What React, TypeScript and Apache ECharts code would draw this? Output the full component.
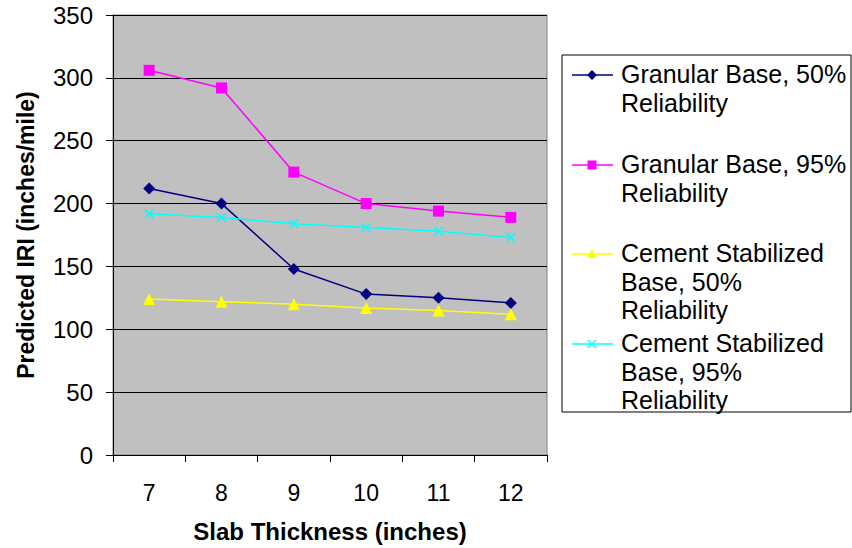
import React, { useEffect, useRef } from "react";
import * as echarts from "echarts";

// Slab thickness categories (inches)
const thickness = ["7", "8", "9", "10", "11", "12"];

// Predicted IRI (inches/mile) per design case
const granular50 = [212, 200, 148, 128, 125, 121];
const granular95 = [306, 292, 225, 200, 194, 189];
const cement50 = [124, 122, 120, 117, 115, 112];
const cement95 = [192, 189, 184, 181, 178, 173];

const seriesNames = [
  "Granular Base, 50%\nReliability",
  "Granular Base, 95%\nReliability",
  "Cement Stabilized\nBase, 50%\nReliability",
  "Cement Stabilized\nBase, 95%\nReliability",
];

const colors = ["#000080", "#FF00FF", "#FFFF00", "#00FFFF"];
const FONT = "'Liberation Sans', Arial, sans-serif";
const CROSS = "path://M0,0L10,10M0,10L10,0";

export default function App() {
  const ref = useRef<HTMLDivElement>(null);

  useEffect(() => {
    if (!ref.current) return;
    const chart = echarts.init(ref.current, undefined, { renderer: "svg" });

    // Legend drawn as a boxed list with one icon per entry
    const legendX = 562;
    const legendY = 55;
    const entryY = [75, 165, 254, 344];
    const iconX = 592;
    const lineH = 28.5;
    const legendItems: any[] = [
      {
        type: "rect",
        shape: { x: legendX, y: legendY, width: 289, height: 357 },
        style: { fill: "#fff", stroke: "#000", lineWidth: 1 },
      },
    ];
    entryY.forEach((y, i) => {
      legendItems.push({
        type: "line",
        shape: { x1: 572, y1: y, x2: 613, y2: y },
        style: { stroke: colors[i], lineWidth: 1.5 },
      });
      if (i === 0) {
        legendItems.push({
          type: "polygon",
          shape: { points: [[iconX, y - 5], [iconX + 5, y], [iconX, y + 5], [iconX - 5, y]] },
          style: { fill: colors[i] },
        });
      } else if (i === 1) {
        legendItems.push({
          type: "rect",
          shape: { x: iconX - 4.5, y: y - 4.5, width: 9, height: 9 },
          style: { fill: colors[i] },
        });
      } else if (i === 2) {
        legendItems.push({
          type: "polygon",
          shape: { points: [[iconX, y - 5], [iconX + 5, y + 4], [iconX - 5, y + 4]] },
          style: { fill: colors[i] },
        });
      } else {
        legendItems.push(
          {
            type: "line",
            shape: { x1: iconX - 4, y1: y - 4, x2: iconX + 4, y2: y + 4 },
            style: { stroke: colors[i], lineWidth: 1.3 },
          },
          {
            type: "line",
            shape: { x1: iconX - 4, y1: y + 4, x2: iconX + 4, y2: y - 4 },
            style: { stroke: colors[i], lineWidth: 1.3 },
          }
        );
      }
      legendItems.push({
        type: "text",
        x: 621,
        y: y - lineH / 2 - 1,
        style: {
          text: seriesNames[i],
          fontFamily: FONT,
          fontSize: 25,
          lineHeight: lineH,
          fill: "#000",
          verticalAlign: "top",
          align: "left",
        },
      });
    });

    const mkSeries = (i: number, data: number[], symbol: string, size: number, extra: any = {}) => ({
      name: seriesNames[i],
      type: "line",
      data,
      symbol,
      symbolSize: size,
      lineStyle: { color: colors[i], width: 1.5 },
      itemStyle: { color: colors[i], ...extra },
      z: 3 + i,
    });

    chart.setOption({
      animation: false,
      backgroundColor: "#fff",
      textStyle: { fontFamily: FONT },
      grid: {
        left: 113,
        right: 305,
        top: 15,
        bottom: 90,
        show: true,
        backgroundColor: "#C0C0C0",
        borderColor: "#808080",
        borderWidth: 1,
      },
      xAxis: {
        type: "category",
        data: thickness,
        boundaryGap: true,
        name: "Slab Thickness (inches)",
        nameLocation: "middle",
        nameGap: 64,
        nameTextStyle: { fontFamily: FONT, fontSize: 24, fontWeight: "bold", color: "#000" },
        axisLine: { lineStyle: { color: "#000", width: 1 } },
        axisTick: { show: true, length: 7, lineStyle: { color: "#000" } },
        axisLabel: { fontFamily: FONT, fontSize: 23, color: "#000", margin: 26 },
        splitLine: { show: false },
      },
      yAxis: {
        type: "value",
        min: 0,
        max: 350,
        interval: 50,
        name: "Predicted IRI (inches/mile)",
        nameLocation: "middle",
        nameGap: 76,
        nameTextStyle: { fontFamily: FONT, fontSize: 23, fontWeight: "bold", color: "#000" },
        axisLine: { show: true, lineStyle: { color: "#000", width: 1 } },
        axisTick: { show: true, length: 7, lineStyle: { color: "#000" } },
        axisLabel: { fontFamily: FONT, fontSize: 24, color: "#000", margin: 20 },
        splitLine: { show: true, lineStyle: { color: "#000", width: 1 } },
      },
      series: [
        mkSeries(0, granular50, "diamond", 12),
        mkSeries(1, granular95, "rect", 11),
        mkSeries(2, cement50, "triangle", 12),
        mkSeries(3, cement95, CROSS, 9, { borderColor: colors[3], borderWidth: 1.5 }),
      ],
      graphic: legendItems,
    });

    return () => chart.dispose();
  }, []);

  return (
    <div
      ref={ref}
      style={{ position: "fixed", left: 0, top: 0, width: 852, height: 548 }}
    />
  );
}
